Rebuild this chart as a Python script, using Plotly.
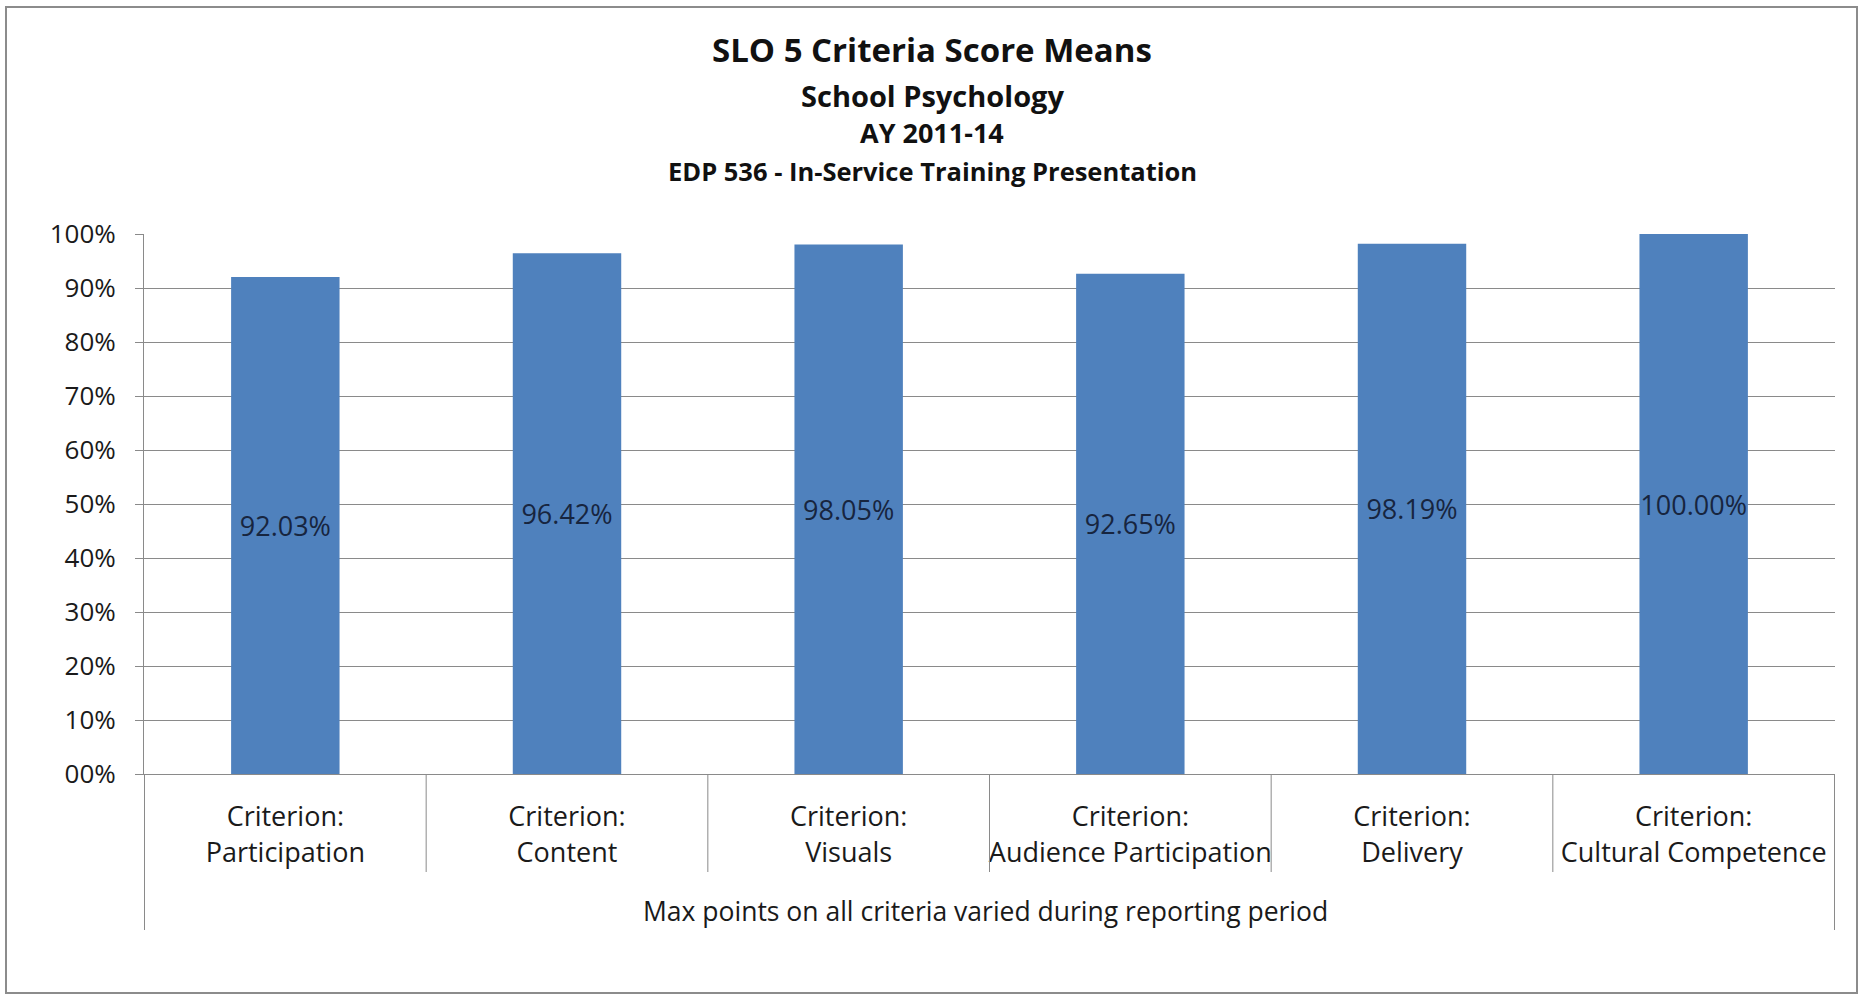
import plotly.graph_objects as go

# ---- data ----
categories = ["Participation", "Content", "Visuals", "Audience Participation", "Delivery", "Cultural Competence"]
category_prefix = "Criterion:"
scores = [92.03, 96.42, 98.05, 92.65, 98.19, 100.00]
y_tick_values = [0, 10, 20, 30, 40, 50, 60, 70, 80, 90, 100]
y_tick_labels = ["00%", "10%", "20%", "30%", "40%", "50%", "60%", "70%", "80%", "90%", "100%"]
title_lines = ["SLO 5 Criteria Score Means", "School Psychology", "AY 2011-14",
               "EDP 536 - In-Service Training Presentation"]
group_label = "Max points on all criteria varied during reporting period"

# ---- layout constants ----
W, H = 1864, 1000
ML, MR, MT, MB = 144, 29, 234, 226
PW, PH = W - ML - MR, H - MT - MB
FONT = "Open Sans"
GRID = "#8a8a8a"


def px_x(px):
    return (px - ML) / PW


def px_y(py):
    return (H - MB - py) / PH


x_labels = [f"{category_prefix}<br>{c}" for c in categories]

fig = go.Figure(go.Bar(
    x=x_labels,
    y=scores,
    marker=dict(color="#4F81BD", line=dict(width=0)),
    texttemplate="%{y:.2f}%",
    textposition="inside",
    insidetextanchor="middle",
    textangle=0,
    constraintext="none",
    textfont=dict(family=FONT, size=27, color="#17253f"),
))

fig.update_layout(
    width=W, height=H,
    margin=dict(l=ML, r=MR, t=MT, b=MB),
    paper_bgcolor="white", plot_bgcolor="white",
    bargap=0.615,
    showlegend=False,
    font=dict(family=FONT, color="#1a1a1a"),
)

fig.update_yaxes(
    range=[0, 100],
    tickvals=y_tick_values,
    ticktext=y_tick_labels,
    tickfont=dict(family=FONT, size=26, color="#1a1a1a"),
    showgrid=True, gridcolor=GRID, gridwidth=1,
    showline=True, linecolor=GRID, linewidth=1,
    ticks="outside", ticklen=8, tickcolor=GRID,
    ticklabelstandoff=14,
    zeroline=False,
    fixedrange=True,
)
fig.update_xaxes(
    tickfont=dict(family=FONT, size=27, color="#1a1a1a"),
    showline=True, linecolor=GRID, linewidth=1,
    ticks="", showgrid=False,
    ticklabelstandoff=19,
    fixedrange=True,
)

# category dividers below the axis
n = len(categories)
for i in range(n + 1):
    outer = i == 0 or i == n
    fig.add_shape(type="line", xref="x", yref="paper",
                  x0=i - 0.5, x1=i - 0.5, y0=0, y1=px_y(930) if outer else px_y(872),
                  line=dict(color=GRID, width=1))

# title lines
title_y = [49, 95, 133, 171]
title_size = [33, 29, 27, 25.5]
for txt, yy, sz in zip(title_lines, title_y, title_size):
    fig.add_annotation(text=f"<b>{txt}</b>", xref="paper", yref="paper",
                       x=px_x(932), y=px_y(yy), showarrow=False,
                       xanchor="center", yanchor="middle",
                       font=dict(family=FONT, size=sz, color="#111111"))

# outer group label
fig.add_annotation(text=group_label, xref="paper", yref="paper",
                   x=px_x(985), y=px_y(911), showarrow=False,
                   xanchor="center", yanchor="middle",
                   font=dict(family=FONT, size=26.5, color="#1a1a1a"))

# chart border
fig.add_shape(type="rect", xref="paper", yref="paper",
              x0=px_x(6), x1=px_x(1857), y0=px_y(993), y1=px_y(7),
              line=dict(color="#8c8c8c", width=2), fillcolor="rgba(0,0,0,0)", layer="below")

fig.write_html("out.html", config={"displayModeBar": False},
               post_script="document.body.style.margin='0';document.body.style.overflow='hidden';")
